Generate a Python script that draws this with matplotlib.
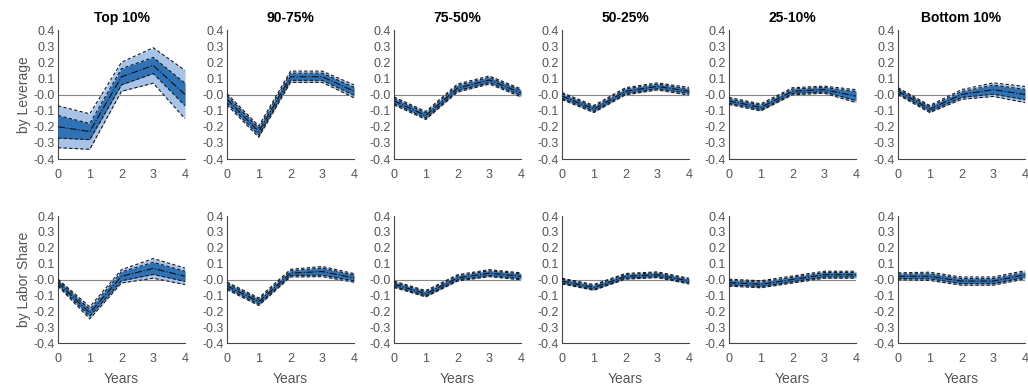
import numpy as np
import matplotlib.pyplot as plt

plt.rcParams['font.family'] = ['Liberation Sans', 'DejaVu Sans']

years = [0, 1, 2, 3, 4]
groups = ['Top 10%', '90-75%', '75-50%', '50-25%', '25-10%', 'Bottom 10%']
row_labels = ['by Leverage', 'by Labor Share']

# point estimates, one row per group
lev_mid = [
    [-0.20, -0.23, 0.11, 0.18, 0.00],
    [-0.03, -0.23, 0.11, 0.11, 0.02],
    [-0.04, -0.13, 0.04, 0.09, 0.01],
    [-0.01, -0.09, 0.02, 0.05, 0.02],
    [-0.04, -0.08, 0.02, 0.03, -0.01],
    [0.02, -0.09, 0.00, 0.03, 0.00],
]
# half widths of inner and outer bands
lev_in = [
    [0.07, 0.05, 0.05, 0.05, 0.07],
    [0.022, 0.022, 0.022, 0.022, 0.025],
    [0.016, 0.016, 0.016, 0.016, 0.016],
    [0.014, 0.014, 0.014, 0.014, 0.014],
    [0.014, 0.014, 0.014, 0.014, 0.028],
    [0.014, 0.014, 0.018, 0.028, 0.032],
]
lev_out = [
    [0.13, 0.11, 0.09, 0.11, 0.15],
    [0.035, 0.035, 0.035, 0.035, 0.04],
    [0.025, 0.025, 0.025, 0.025, 0.025],
    [0.022, 0.022, 0.022, 0.022, 0.024],
    [0.022, 0.022, 0.022, 0.022, 0.04],
    [0.022, 0.022, 0.03, 0.042, 0.05],
]

ls_mid = [
    [-0.02, -0.21, 0.02, 0.07, 0.02],
    [-0.04, -0.14, 0.04, 0.05, 0.01],
    [-0.03, -0.09, 0.01, 0.04, 0.02],
    [-0.01, -0.05, 0.02, 0.03, -0.01],
    [-0.02, -0.03, 0.00, 0.03, 0.03],
    [0.02, 0.02, -0.01, -0.01, 0.03],
]
ls_in = [
    [0.015, 0.022, 0.028, 0.038, 0.032],
    [0.015, 0.015, 0.015, 0.022, 0.018],
    [0.013, 0.013, 0.013, 0.015, 0.015],
    [0.012, 0.012, 0.012, 0.012, 0.012],
    [0.014, 0.014, 0.014, 0.014, 0.014],
    [0.014, 0.016, 0.016, 0.016, 0.016],
]
ls_out = [
    [0.022, 0.038, 0.042, 0.062, 0.052],
    [0.024, 0.024, 0.024, 0.032, 0.027],
    [0.02, 0.02, 0.02, 0.022, 0.022],
    [0.018, 0.018, 0.018, 0.018, 0.018],
    [0.022, 0.022, 0.022, 0.022, 0.022],
    [0.022, 0.026, 0.026, 0.026, 0.026],
]

LIGHT = '#a8c3e8'
DARK = '#2f72b6'
GRAY = '#555555'

fig = plt.figure(figsize=(10.28, 3.87), dpi=100)
lefts = [58, 227, 394, 562, 729, 898]
W, H = 1028, 387
pw = 127
rows = [(30, 159), (216, 343)]

data = [(lev_mid, lev_in, lev_out), (ls_mid, ls_in, ls_out)]

for r in range(2):
    mids, ins, outs = data[r]
    top, bot = rows[r]
    for c in range(6):
        ax = fig.add_axes([lefts[c] / W, 1 - bot / H, pw / W, (bot - top) / H])
        m = np.array(mids[c])
        hi = np.array(ins[c])
        ho = np.array(outs[c])
        ax.axhline(0, color='#888888', lw=0.8, zorder=1)
        ax.fill_between(years, m - ho, m + ho, color=LIGHT, lw=0, zorder=2)
        ax.fill_between(years, m - hi, m + hi, color=DARK, lw=0, zorder=3)
        for b in (m - ho, m + ho, m - hi, m + hi):
            ax.plot(years, b, color='#1a1a1a', lw=0.8, ls=(0, (3, 2)), zorder=4)
        ax.plot(years, m, color='#111111', lw=0.8, ls='-.', zorder=5)

        ax.set_xlim(0, 4)
        ax.set_ylim(-0.4, 0.4)
        ax.set_xticks(years)
        ax.set_yticks(np.arange(-0.4, 0.41, 0.1))
        ax.set_yticklabels(['%.1f' % v for v in np.arange(-0.4, 0.41, 0.1)])
        ax.tick_params(length=0, labelsize=9, colors=GRAY, pad=7)
        ax.tick_params(axis='y', pad=2)
        for s in ('top', 'right'):
            ax.spines[s].set_visible(False)
        for s in ('left', 'bottom'):
            ax.spines[s].set_color('#444444')
            ax.spines[s].set_linewidth(0.8)
        if r == 0:
            ax.set_title(groups[c], fontsize=10, fontweight='bold', pad=6)
        else:
            ax.set_xlabel('Years', fontsize=10, color=GRAY, labelpad=5)
        if c == 0:
            ax.set_ylabel(row_labels[r], fontsize=10, color=GRAY, labelpad=2)

fig.savefig('out.png', dpi=100)
